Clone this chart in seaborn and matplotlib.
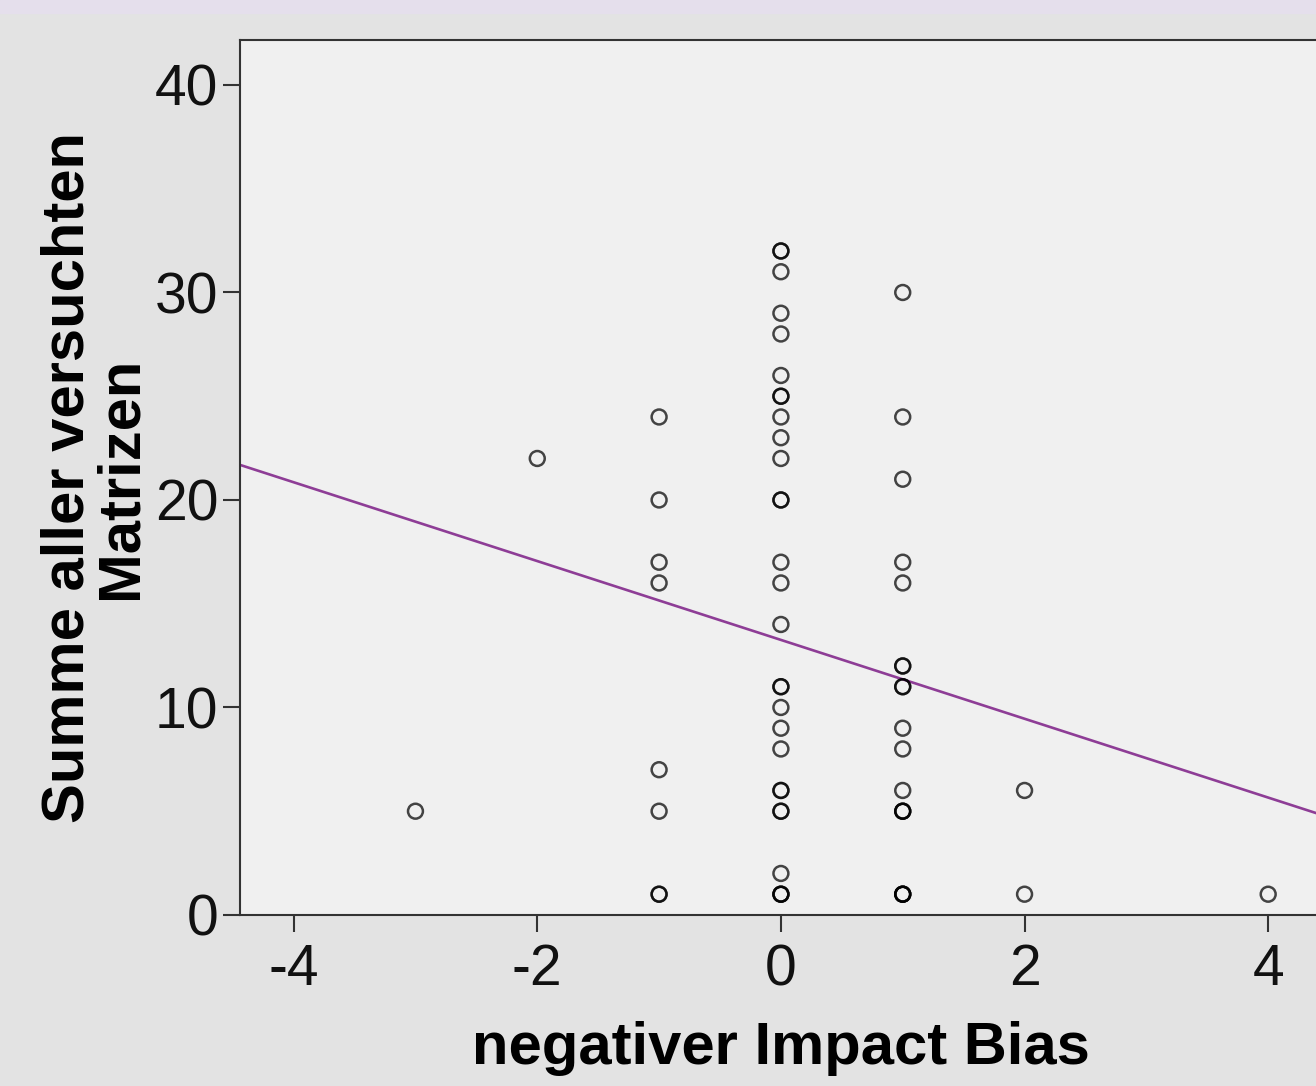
import numpy as np
import pandas as pd
import matplotlib
matplotlib.use("Agg")
import matplotlib.pyplot as plt
from matplotlib.patches import Rectangle
import seaborn as sns

# ---- data ----
x_bias = ([0] * 29) + ([1] * 19) + ([-1] * 8) + [-2, -3, 2, 2, 4]
y_matrices = (
    [32, 32, 31, 29, 28, 26, 25, 25, 24, 23, 22, 20, 20, 17, 16, 14, 11, 11,
     10, 9, 8, 6, 6, 5, 5, 2, 1, 1, 1]
    + [30, 24, 21, 17, 16, 12, 12, 11, 11, 9, 8, 6, 5, 5, 5, 1, 1, 1, 1]
    + [24, 20, 17, 16, 7, 5, 1, 1]
    + [22, 5, 6, 1, 1]
)
x_ticks = [-4, -2, 0, 2, 4]
y_ticks = [0, 10, 20, 30, 40]
x_label = "negativer Impact Bias"
y_label = "Summe aller versuchten\nMatrizen"

df = pd.DataFrame({"x": x_bias, "y": y_matrices})

sns.set_theme(style="ticks")
plt.rcParams["font.family"] = ["Liberation Sans", "DejaVu Sans"]
plt.rcParams["axes.unicode_minus"] = False

fig = plt.figure(figsize=(13.16, 10.86), dpi=100, facecolor="#e3e3e3")
fig.patches.append(Rectangle((0, 1 - 13 / 1086), 1, 13 / 1086,
                             transform=fig.transFigure, color="#e5dfec",
                             zorder=0))
ax = fig.add_axes([0.1824, 0.1575, 0.822, 0.8057])
ax.set_facecolor("#f0f0f0")
ax.set_xlim(-4.44, 4.44)
ax.set_ylim(0, 42.17)

sns.regplot(data=df, x="x", y="y", ax=ax, ci=None, truncate=False,
            scatter_kws=dict(color="#000000", facecolors="none",
                             edgecolors="#000000", s=115, linewidths=1.8,
                             alpha=0.72, zorder=3),
            line_kws=dict(color="#8e3d96", lw=1.9, zorder=2))

ax.set_xticks(x_ticks)
ax.set_yticks(y_ticks)
ax.set_xticklabels([str(t) for t in x_ticks])
ax.set_yticklabels([str(t) for t in y_ticks])
ax.tick_params(axis="both", direction="out", length=12.5, width=1.5,
               color="#333333", labelsize=41, labelcolor="#111111")
ax.tick_params(axis="x", pad=8)
ax.tick_params(axis="y", pad=3)
for sp in ax.spines.values():
    sp.set_color("#333333")
    sp.set_linewidth(1.5)

ax.set_xlabel(x_label, fontsize=43, fontweight="bold", color="#000000")
ax.set_ylabel(y_label, fontsize=43, fontweight="bold", color="#000000",
              linespacing=0.95)
ax.xaxis.set_label_coords(0.5, -0.121)
ax.yaxis.set_label_coords(-0.085, 0.5)

fig.savefig("out.png", dpi=100, facecolor=fig.get_facecolor())
